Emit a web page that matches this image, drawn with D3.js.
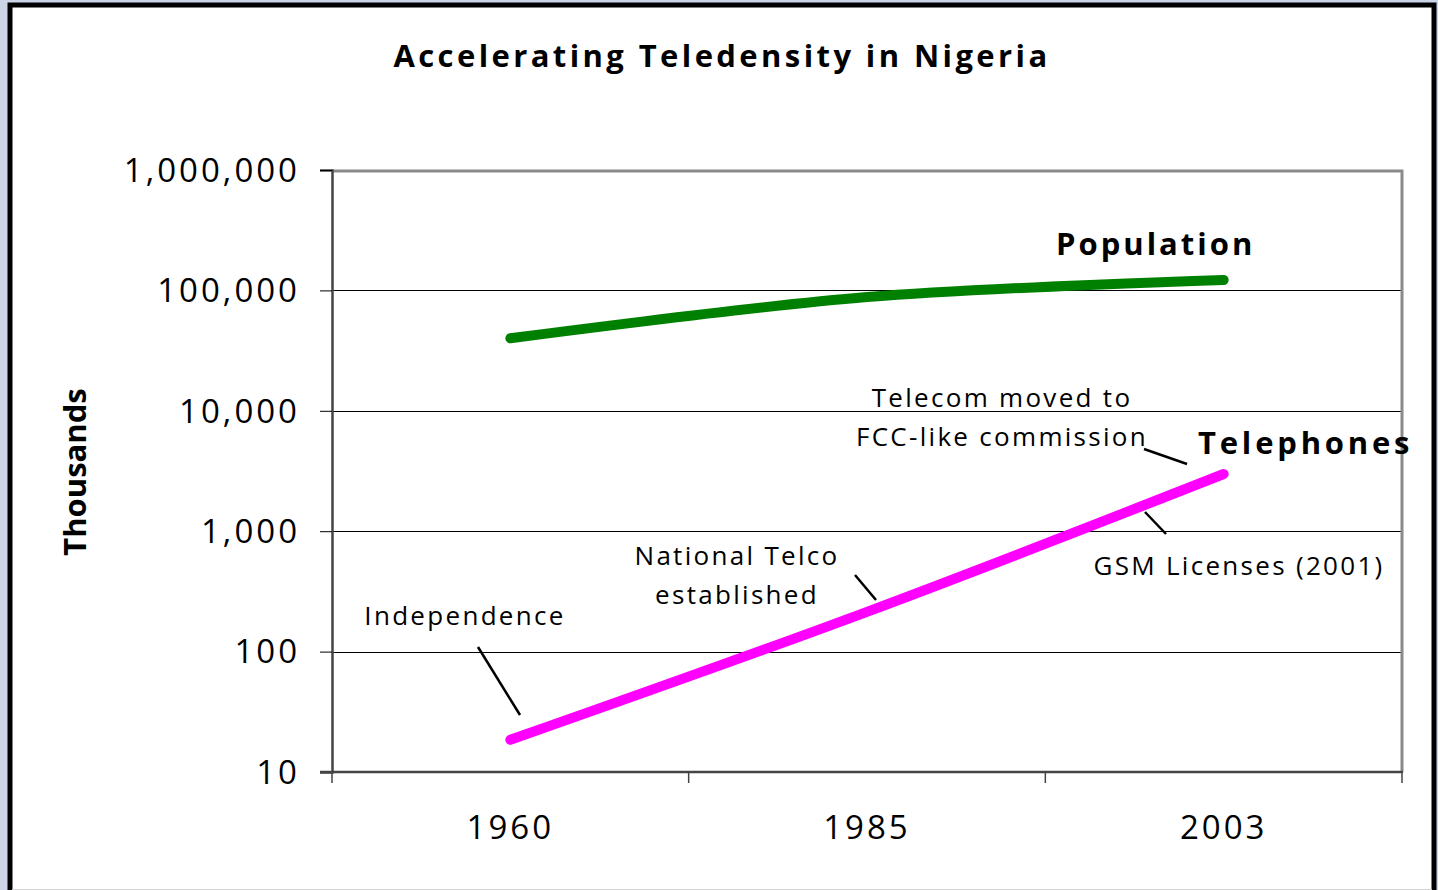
<!DOCTYPE html>
<html>
<head>
<meta charset="utf-8">
<script src="https://cdn.jsdelivr.net/npm/d3@7"></script>
<style>
  html, body { margin: 0; padding: 0; background: #ccd5e8; }
  svg { display: block; }
  text { font-family: "Open Sans", "DejaVu Sans", sans-serif; fill: #000; }
</style>
</head>
<body>
<div id="chart"></div>
<script>
// datos del grafico
const years = ["1960", "1985", "2003"];
const population = [40000, 88000, 122000];
const telephones = [18.5, 214, 2985];
const yTicks = [10, 100, 1000, 10000, 100000, 1000000];

const W = 1438, H = 890;
const margin = {left: 332, right: 36, top: 170, bottom: 118};

const svg = d3.select("#chart").append("svg")
  .attr("width", W)
  .attr("height", H);

// marco
svg.append("rect").attr("x", 0).attr("y", 0).attr("width", W).attr("height", H).attr("fill", "#ccd5e8");
svg.append("rect")
  .attr("x", 10).attr("y", 5)
  .attr("width", 1424).attr("height", 900)
  .attr("fill", "#fff")
  .attr("stroke", "#000")
  .attr("stroke-width", 5);
svg.append("line").attr("x1", 12).attr("x2", 1432).attr("y1", 889.5).attr("y2", 889.5)
  .attr("stroke", "#d4d4d4").attr("stroke-width", 1);

const x = d3.scaleBand()
  .domain(years)
  .range([margin.left, W - margin.right])
  .padding(0);

const y = d3.scaleLog()
  .domain([10, 1000000])
  .range([H - margin.bottom, margin.top]);

const xL = margin.left, xR = W - margin.right;
const yT = margin.top, yB = H - margin.bottom;

// titulo
svg.append("text")
  .attr("x", 722).attr("y", 67)
  .attr("text-anchor", "middle")
  .style("font-size", "31px")
  .style("font-weight", "bold")
  .style("letter-spacing", "3.4px")
  .text("Accelerating Teledensity in Nigeria");

// lineas de rejilla
svg.append("g")
  .selectAll("line")
  .data(yTicks.filter(d => d > 10 && d < 1000000))
  .join("line")
  .attr("x1", xL).attr("x2", xR)
  .attr("y1", d => Math.round(y(d)) + 0.5).attr("y2", d => Math.round(y(d)) + 0.5)
  .attr("stroke", "#000")
  .attr("stroke-width", 1);

// borde del area de trazado (superior y derecho en gris)
svg.append("path")
  .attr("d", `M${xL},${yT + 1} H${xR} V${yB}`)
  .attr("fill", "none")
  .attr("stroke", "#8a8a8a")
  .attr("stroke-width", 3);

// eje Y
const yAxis = d3.axisLeft(y)
  .tickValues(yTicks)
  .tickSize(12)
  .tickPadding(22)
  .tickFormat(d3.format(","));

const gy = svg.append("g")
  .attr("transform", `translate(${xL},0)`)
  .call(yAxis);
gy.select(".domain").attr("stroke", "#444").attr("stroke-width", 2.5);
gy.selectAll(".tick line").attr("stroke", "#000");
gy.selectAll(".tick text")
  .style("font-size", "33px")
  .style("letter-spacing", "3px")
  .attr("dy", "0.34em")
  .attr("x", -32);

// eje X
const gx = svg.append("g")
  .attr("transform", `translate(0,${yB})`);
gx.append("line")
  .attr("x1", xL - 12).attr("x2", xR + 1)
  .attr("y1", 0).attr("y2", 0)
  .attr("stroke", "#444").attr("stroke-width", 2.5);
gx.selectAll(".xtick")
  .data(years.concat(["end"]))
  .join("line")
  .attr("class", "xtick")
  .attr("x1", (d, i) => xL + i * x.bandwidth())
  .attr("x2", (d, i) => xL + i * x.bandwidth())
  .attr("y1", 0).attr("y2", 11)
  .attr("stroke", "#444").attr("stroke-width", 1.5);
gx.selectAll(".xlabel")
  .data(years)
  .join("text")
  .attr("class", "xlabel")
  .attr("x", d => x(d) + x.bandwidth() / 2)
  .attr("y", 67)
  .attr("text-anchor", "middle")
  .style("font-size", "33px")
  .style("letter-spacing", "3px")
  .text(d => d);

// titulo eje Y
svg.append("text")
  .attr("transform", "translate(86,472) rotate(-90)")
  .attr("text-anchor", "middle")
  .style("font-size", "31px")
  .style("font-weight", "bold")
  .text("Thousands");

// series
const line = d3.line()
  .x(d => x(d.year) + x.bandwidth() / 2)
  .y(d => y(d.value))
  .curve(d3.curveCatmullRom);

const popData = years.map((yr, i) => ({year: yr, value: population[i]}));
const telData = years.map((yr, i) => ({year: yr, value: telephones[i]}));

svg.append("path")
  .datum(popData)
  .attr("d", line)
  .attr("fill", "none")
  .attr("stroke", "#008000")
  .attr("stroke-width", 10)
  .attr("stroke-linecap", "round");

svg.append("path")
  .datum(telData)
  .attr("d", line)
  .attr("fill", "none")
  .attr("stroke", "#ff00ff")
  .attr("stroke-width", 10)
  .attr("stroke-linecap", "round");

// etiquetas de series
svg.append("text")
  .attr("x", 1056).attr("y", 255)
  .style("font-size", "31px")
  .style("font-weight", "bold")
  .style("letter-spacing", "3px")
  .text("Population");

svg.append("text")
  .attr("x", 1198).attr("y", 454)
  .style("font-size", "31px")
  .style("font-weight", "bold")
  .style("letter-spacing", "3.8px")
  .text("Telephones");

// anotaciones
const notas = [
  {lines: ["Independence"], x: 465, y: 625, lx1: 478, ly1: 647, lx2: 520, ly2: 715},
  {lines: ["National Telco", "established"], x: 737, y: 565, lx1: 855, ly1: 575, lx2: 876, ly2: 600},
  {lines: ["Telecom moved to", "FCC-like commission"], x: 1002, y: 407, lx1: 1144, ly1: 449, lx2: 1187, ly2: 464},
  {lines: ["GSM Licenses (2001)"], x: 1239, y: 575, lx1: 1145, ly1: 512, lx2: 1166, ly2: 534}
];

const gNotas = svg.append("g");
notas.forEach(n => {
  const t = gNotas.append("text")
    .attr("x", n.x).attr("y", n.y)
    .attr("text-anchor", "middle")
    .style("font-size", "26px")
    .style("letter-spacing", "2.3px");
  n.lines.forEach((s, i) => {
    t.append("tspan").attr("x", n.x).attr("dy", i === 0 ? 0 : 39).text(s);
  });
  gNotas.append("line")
    .attr("x1", n.lx1).attr("y1", n.ly1)
    .attr("x2", n.lx2).attr("y2", n.ly2)
    .attr("stroke", "#000")
    .attr("stroke-width", 2.5);
});
</script>
</body>
</html>
